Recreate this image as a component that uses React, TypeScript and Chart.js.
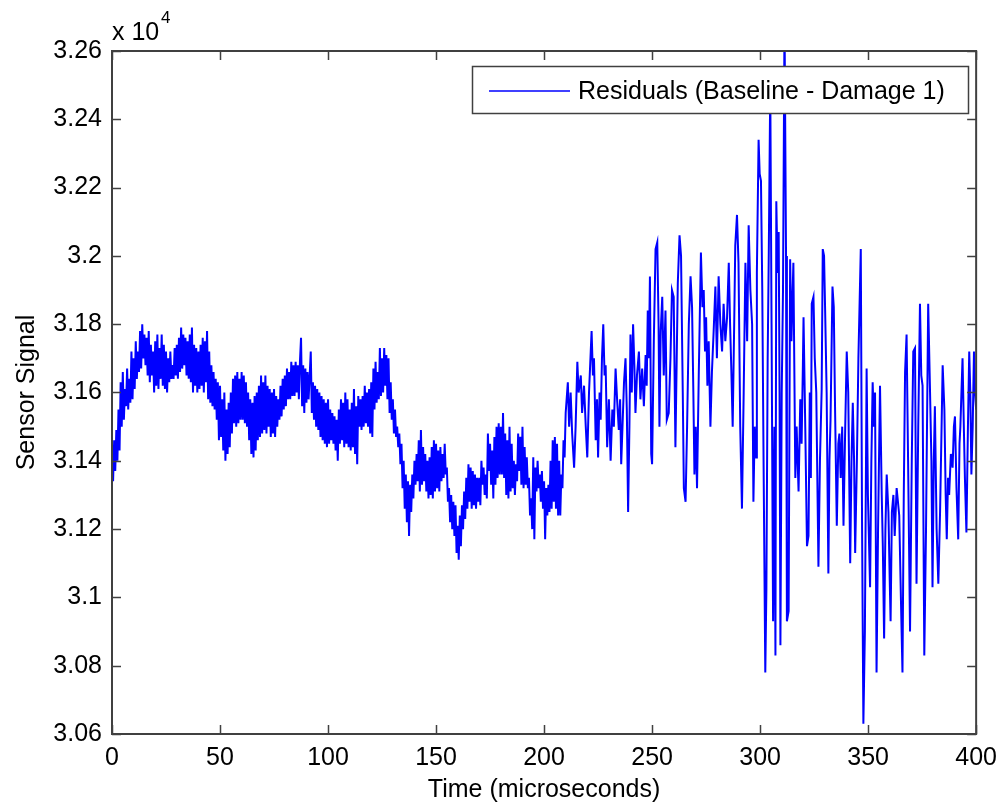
import { useEffect, useRef } from 'react';
import { Chart, registerables } from 'chart.js';

Chart.register(...registerables);

// Dense part of the record: one sample every 0.5 microseconds, starting at t = 0
const denseStep = 0.5;
const denseSignal = [
  3.140, 3.134, 3.146, 3.137, 3.149, 3.140, 3.155, 3.143, 3.163, 3.150,
  3.166, 3.152, 3.161, 3.156, 3.167, 3.155, 3.164, 3.157, 3.172, 3.158,
  3.170, 3.161, 3.175, 3.164, 3.172, 3.166, 3.178, 3.167, 3.180, 3.170,
  3.177, 3.168, 3.176, 3.165, 3.178, 3.163, 3.174, 3.165, 3.172, 3.160,
  3.175, 3.162, 3.177, 3.161, 3.173, 3.164, 3.177, 3.162, 3.174, 3.161,
  3.172, 3.160, 3.170, 3.163, 3.172, 3.164, 3.168, 3.164, 3.173, 3.165,
  3.174, 3.164, 3.176, 3.166, 3.179, 3.167, 3.177, 3.168, 3.176, 3.165,
  3.175, 3.164, 3.177, 3.163, 3.179, 3.160, 3.174, 3.162, 3.173, 3.160,
  3.172, 3.161, 3.174, 3.162, 3.176, 3.160, 3.175, 3.163, 3.178, 3.158,
  3.172, 3.157, 3.168, 3.156, 3.166, 3.155, 3.164, 3.152, 3.163, 3.146,
  3.162, 3.147, 3.158, 3.143, 3.160, 3.140, 3.155, 3.142, 3.157, 3.144,
  3.160, 3.148, 3.164, 3.151, 3.165, 3.150, 3.166, 3.151, 3.164, 3.152,
  3.166, 3.152, 3.165, 3.151, 3.163, 3.150, 3.160, 3.146, 3.158, 3.142,
  3.157, 3.141, 3.159, 3.143, 3.160, 3.146, 3.162, 3.147, 3.165, 3.148,
  3.163, 3.149, 3.165, 3.148, 3.162, 3.150, 3.161, 3.147, 3.160, 3.148,
  3.161, 3.147, 3.159, 3.150, 3.158, 3.152, 3.162, 3.153, 3.164, 3.155,
  3.165, 3.156, 3.167, 3.158, 3.166, 3.158, 3.169, 3.159, 3.168, 3.159,
  3.169, 3.160, 3.168, 3.158, 3.169, 3.176, 3.156, 3.168, 3.154, 3.167,
  3.157, 3.166, 3.158, 3.165, 3.172, 3.154, 3.163, 3.152, 3.162, 3.150,
  3.161, 3.149, 3.160, 3.147, 3.159, 3.146, 3.158, 3.145, 3.157, 3.144,
  3.158, 3.145, 3.155, 3.146, 3.154, 3.145, 3.153, 3.143, 3.152, 3.140,
  3.155, 3.145, 3.158, 3.146, 3.157, 3.144, 3.160, 3.145, 3.158, 3.144,
  3.155, 3.143, 3.157, 3.144, 3.161, 3.142, 3.156, 3.139, 3.159, 3.150,
  3.158, 3.149, 3.159, 3.150, 3.162, 3.151, 3.160, 3.150, 3.161, 3.148,
  3.163, 3.147, 3.167, 3.155, 3.169, 3.157, 3.166, 3.158, 3.173, 3.159,
  3.170, 3.160, 3.173, 3.162, 3.171, 3.158, 3.170, 3.154, 3.163, 3.152,
  3.158, 3.148, 3.155, 3.147, 3.150, 3.144, 3.148, 3.139, 3.145, 3.132,
  3.140, 3.126, 3.136, 3.122, 3.134, 3.118, 3.133, 3.125, 3.136, 3.129,
  3.140, 3.133, 3.142, 3.134, 3.146, 3.131, 3.149, 3.133, 3.144, 3.134,
  3.142, 3.131, 3.140, 3.129, 3.141, 3.130, 3.144, 3.129, 3.146, 3.131,
  3.145, 3.132, 3.143, 3.131, 3.144, 3.134, 3.142, 3.135, 3.145, 3.136,
  3.138, 3.128, 3.132, 3.122, 3.130, 3.120, 3.128, 3.118, 3.127, 3.113,
  3.121, 3.111, 3.124, 3.115, 3.127, 3.120, 3.131, 3.123, 3.135, 3.126,
  3.139, 3.128, 3.138, 3.126, 3.137, 3.127, 3.136, 3.126, 3.135, 3.128,
  3.135, 3.127, 3.140, 3.133, 3.138, 3.130, 3.136, 3.129, 3.148, 3.137,
  3.145, 3.133, 3.143, 3.129, 3.147, 3.133, 3.150, 3.135, 3.151, 3.136,
  3.150, 3.136, 3.154, 3.135, 3.148, 3.130, 3.146, 3.129, 3.150, 3.131,
  3.145, 3.132, 3.140, 3.130, 3.139, 3.134, 3.148, 3.137, 3.147, 3.133,
  3.150, 3.132, 3.144, 3.133, 3.141, 3.132, 3.135, 3.124, 3.129, 3.120,
  3.141, 3.117, 3.138, 3.131, 3.140, 3.132, 3.136, 3.128, 3.137, 3.126,
  3.134, 3.117, 3.132, 3.124, 3.133, 3.125, 3.140, 3.126, 3.146, 3.128,
  3.147, 3.126, 3.145, 3.124, 3.140, 3.124, 3.136, 3.132, 3.146, 3.141,
];

// Sparser, wide-swing part of the record (time in microseconds, value x 10^4)
const sparseTimes = [
  210.0, 211.0, 211.6, 212.3, 213.0, 213.9, 214.6, 215.4, 216.0, 217.0,
  217.6, 218.5, 219.3, 220.0, 220.8, 221.6, 222.0, 222.6, 223.1, 223.9,
  224.5, 225.0, 225.7, 226.2, 226.8, 227.4, 228.0, 228.5, 229.2, 230.0,
  230.8, 231.6, 232.3, 233.1, 233.8, 234.6, 235.2, 235.7, 236.3, 237.0,
  237.7, 238.3, 238.9, 239.5, 240.0, 240.6, 241.2, 241.8, 242.3, 243.0,
  243.9, 244.6, 245.4, 246.2, 247.0, 247.5, 248.0, 248.5, 249.0, 249.6,
  250.0, 250.8, 251.6, 252.4, 253.0, 253.4, 254.0, 254.7, 255.4, 256.2,
  256.8, 257.7, 258.5, 259.2, 260.0, 260.8, 261.4, 261.9, 262.7, 263.4,
  264.2, 264.7, 265.5, 266.2, 267.0, 267.8, 268.5, 269.1, 269.6, 270.2,
  270.8, 271.6, 272.6, 273.3, 273.9, 274.5, 275.0, 275.6, 276.2, 277.0,
  277.7, 278.5, 279.3, 280.0, 280.8, 281.6, 282.4, 283.1, 283.9, 284.7,
  285.5, 286.1, 286.7, 287.3, 288.0, 288.5, 289.3, 290.0, 290.8, 291.6,
  292.4, 293.2, 294.0, 294.7, 295.5, 296.3, 296.9, 297.5, 298.2, 298.5,
  299.3, 299.8, 300.4, 301.0, 301.6, 302.4, 302.9, 303.5, 304.0, 304.7,
  305.3, 306.0, 306.6, 307.1, 307.5, 308.1, 308.6, 309.0, 309.4, 310.0,
  310.6, 311.3, 312.0, 312.4, 313.2, 313.9, 314.5, 315.4, 316.3, 316.9,
  317.8, 318.6, 319.2, 319.8, 320.1, 320.9, 321.7, 322.4, 323.0, 323.5,
  323.9, 324.7, 325.3, 326.0, 327.0, 327.7, 328.5, 329.0, 329.6, 330.1,
  330.8, 331.6, 332.1, 332.6, 333.5, 334.1, 334.7, 335.5, 336.2, 336.7,
  337.3, 338.0, 338.6, 339.4, 340.1, 340.8, 341.7, 342.3, 342.9, 343.5,
  344.0, 344.8, 345.5, 346.6, 347.2, 347.8, 348.5, 349.3, 349.9, 350.9,
  351.5, 352.1, 352.7, 353.2, 353.9, 354.6, 355.5, 356.3, 356.8, 357.4,
  358.0, 358.6, 359.4, 360.0, 360.4, 361.0, 361.7, 362.3, 363.2, 363.8,
  364.4, 365.2, 365.9, 366.5, 367.1, 367.8, 368.5, 369.4, 370.2, 370.9,
  371.7, 372.4, 373.2, 374.0, 374.6, 375.2, 376.0, 376.8, 377.8, 378.6,
  379.3, 379.8, 380.4, 380.9, 381.7, 382.5, 383.3, 384.0, 384.5, 385.3,
  385.9, 386.4, 387.0, 387.5, 388.3, 389.1, 389.7, 390.2, 390.9, 391.7,
  392.3, 392.7, 393.7, 394.3, 394.8, 395.5, 396.2, 396.8, 397.3, 397.8,
  398.4, 399.0, 399.5, 400.0,
];
const sparseSignal = [
  3.154, 3.163, 3.150, 3.160, 3.148, 3.138, 3.150, 3.169, 3.160, 3.165,
  3.154, 3.162, 3.150, 3.141, 3.160, 3.172, 3.178, 3.165, 3.170, 3.146,
  3.158, 3.141, 3.160, 3.152, 3.170, 3.180, 3.165, 3.168, 3.144, 3.158,
  3.140, 3.155, 3.150, 3.167, 3.158, 3.149, 3.158, 3.139, 3.150, 3.163,
  3.170, 3.155, 3.125, 3.150, 3.177, 3.160, 3.180, 3.168, 3.154, 3.165,
  3.172, 3.158, 3.167, 3.156, 3.171, 3.162, 3.184, 3.170, 3.194, 3.142,
  3.139, 3.175, 3.202, 3.204, 3.180, 3.150, 3.178, 3.188, 3.165, 3.184,
  3.152, 3.154, 3.170, 3.190, 3.188, 3.144, 3.170, 3.192, 3.206, 3.200,
  3.160, 3.132, 3.128, 3.150, 3.180, 3.194, 3.185, 3.160, 3.136, 3.150,
  3.132, 3.165, 3.201, 3.185, 3.190, 3.172, 3.182, 3.162, 3.175, 3.150,
  3.166, 3.178, 3.191, 3.170, 3.194, 3.180, 3.172, 3.186, 3.175, 3.182,
  3.198, 3.180, 3.166, 3.150, 3.180, 3.203, 3.212, 3.198, 3.150, 3.126,
  3.160, 3.198, 3.175, 3.209, 3.190, 3.180, 3.128, 3.150, 3.141, 3.195,
  3.234, 3.224, 3.222, 3.190, 3.140, 3.078, 3.102, 3.170, 3.200, 3.250,
  3.180, 3.093, 3.150, 3.083, 3.216, 3.195, 3.207, 3.160, 3.086, 3.160,
  3.190, 3.270, 3.200, 3.093, 3.096, 3.199, 3.175, 3.198, 3.135, 3.150,
  3.131, 3.158, 3.145, 3.168, 3.182, 3.150, 3.115, 3.118, 3.160, 3.135,
  3.186, 3.188, 3.170, 3.160, 3.109, 3.140, 3.161, 3.202, 3.200, 3.184,
  3.160, 3.107, 3.140, 3.152, 3.191, 3.185, 3.155, 3.121, 3.145, 3.148,
  3.135, 3.150, 3.121, 3.150, 3.172, 3.160, 3.110, 3.140, 3.157, 3.140,
  3.113, 3.140, 3.170, 3.202, 3.120, 3.063, 3.090, 3.167, 3.130, 3.103,
  3.140, 3.163, 3.150, 3.160, 3.078, 3.120, 3.162, 3.130, 3.115, 3.088,
  3.120, 3.136, 3.125, 3.105, 3.093, 3.125, 3.130, 3.118, 3.132, 3.128,
  3.124, 3.099, 3.078, 3.130, 3.166, 3.177, 3.140, 3.090, 3.140, 3.172,
  3.173, 3.104, 3.150, 3.186, 3.165, 3.162, 3.083, 3.120, 3.186, 3.162,
  3.140, 3.103, 3.140, 3.156, 3.120, 3.104, 3.125, 3.150, 3.168, 3.155,
  3.130, 3.117, 3.135, 3.130, 3.142, 3.138, 3.150, 3.153, 3.132, 3.117,
  3.145, 3.150, 3.170, 3.150, 3.135, 3.119, 3.150, 3.172, 3.160, 3.136,
  3.150, 3.172, 3.160, 3.155,
];

const xTicks = [0, 50, 100, 150, 200, 250, 300, 350, 400];
const yTicks = [3.06, 3.08, 3.1, 3.12, 3.14, 3.16, 3.18, 3.2, 3.22, 3.24, 3.26];
const yTickLabels = ['3.06', '3.08', '3.1', '3.12', '3.14', '3.16', '3.18', '3.2', '3.22', '3.24', '3.26'];

const seriesLabel = 'Residuals (Baseline - Damage 1)';
const xTitle = 'Time (microseconds)';
const yTitle = 'Sensor Signal';
const exponentText = 'x 10';
const exponentPower = '4';

const FONT = '"Liberation Sans", Arial, sans-serif';
const LINE_COLOR = '#0000ff';
const AXIS_COLOR = '#404040';

export default function App() {
  const ref = useRef<HTMLCanvasElement>(null);

  useEffect(() => {
    document.body.style.margin = '0';
    const canvas = ref.current;
    if (!canvas) return;

    const points = denseSignal
      .map((v, i) => ({ x: i * denseStep, y: v }))
      .concat(sparseTimes.map((t, i) => ({ x: t, y: sparseSignal[i] })));

    const framePlugin = {
      id: 'matlabFrame',
      afterDraw(chart: any) {
        const { ctx, chartArea: a, scales } = chart;
        const xs = scales.x;
        const ys = scales.y;
        ctx.save();

        // Legend box (drawn over the line)
        const lx = 472.5, ly = 66.5, lw = 496, lh = 47;
        ctx.fillStyle = '#ffffff';
        ctx.fillRect(lx, ly, lw, lh);
        ctx.strokeStyle = AXIS_COLOR;
        ctx.lineWidth = 1.5;
        ctx.strokeRect(lx, ly, lw, lh);
        ctx.strokeStyle = LINE_COLOR;
        ctx.lineWidth = 1.5;
        ctx.beginPath();
        ctx.moveTo(489, 91);
        ctx.lineTo(570, 91);
        ctx.stroke();
        ctx.fillStyle = '#000000';
        ctx.font = `25px ${FONT}`;
        ctx.textAlign = 'left';
        ctx.textBaseline = 'middle';
        ctx.fillText(seriesLabel, 578, 92);

        // Axes box
        ctx.strokeStyle = AXIS_COLOR;
        ctx.lineWidth = 2;
        ctx.strokeRect(a.left, a.top, a.right - a.left, a.bottom - a.top);

        // Inward ticks on all four sides
        const tl = 9;
        ctx.lineWidth = 1.5;
        ctx.beginPath();
        xTicks.forEach((t) => {
          const px = Math.round(xs.getPixelForValue(t)) + 0.5;
          ctx.moveTo(px, a.bottom);
          ctx.lineTo(px, a.bottom - tl);
          ctx.moveTo(px, a.top);
          ctx.lineTo(px, a.top + tl);
        });
        yTicks.forEach((t) => {
          const py = Math.round(ys.getPixelForValue(t)) + 0.5;
          ctx.moveTo(a.left, py);
          ctx.lineTo(a.left + tl, py);
          ctx.moveTo(a.right, py);
          ctx.lineTo(a.right - tl, py);
        });
        ctx.stroke();

        // Exponent label
        ctx.fillStyle = '#000000';
        ctx.textBaseline = 'alphabetic';
        ctx.font = `25px ${FONT}`;
        ctx.fillText(exponentText, 112, 40);
        ctx.font = `17px ${FONT}`;
        ctx.fillText(exponentPower, 161, 23);
        ctx.restore();
      },
    };

    const chart = new Chart(canvas, {
      type: 'line',
      data: {
        datasets: [
          {
            label: seriesLabel,
            data: points,
            borderColor: LINE_COLOR,
            backgroundColor: LINE_COLOR,
            borderWidth: 2,
            pointRadius: 0,
            tension: 0,
            fill: false,
          },
        ],
      },
      options: {
        animation: false,
        responsive: false,
        devicePixelRatio: 1,
        layout: { padding: { top: 51, right: 28, left: 0, bottom: 0 } },
        plugins: {
          legend: { display: false },
          tooltip: { enabled: false },
        },
        scales: {
          x: {
            type: 'linear',
            min: 0,
            max: 400,
            grid: { display: false, drawTicks: false },
            border: { display: false },
            afterBuildTicks: (s: any) => {
              s.ticks = xTicks.map((v) => ({ value: v }));
            },
            afterFit: (s: any) => {
              s.height = 78;
            },
            ticks: {
              color: '#000000',
              font: { family: FONT, size: 25 },
              padding: 9,
              maxRotation: 0,
              autoSkip: false,
              callback: (v: any) => String(v),
            },
            title: {
              display: true,
              text: xTitle,
              color: '#000000',
              font: { family: FONT, size: 25 },
              padding: { top: 0, bottom: 7 },
            },
          },
          y: {
            type: 'linear',
            min: 3.06,
            max: 3.26,
            grid: { display: false, drawTicks: false },
            border: { display: false },
            afterBuildTicks: (s: any) => {
              s.ticks = yTicks.map((v) => ({ value: v }));
            },
            afterFit: (s: any) => {
              s.width = 112;
            },
            ticks: {
              color: '#000000',
              font: { family: FONT, size: 25 },
              padding: 10,
              autoSkip: false,
              callback: (v: any) => {
                const i = yTicks.findIndex((t) => Math.abs(t - Number(v)) < 1e-6);
                return i >= 0 ? yTickLabels[i] : '';
              },
            },
            title: {
              display: true,
              text: yTitle,
              color: '#000000',
              font: { family: FONT, size: 25 },
              padding: { top: 12, bottom: 0 },
            },
          },
        },
      },
      plugins: [framePlugin],
    });

    return () => chart.destroy();
  }, []);

  return <canvas ref={ref} width={1006} height={812} style={{ display: 'block' }} />;
}
